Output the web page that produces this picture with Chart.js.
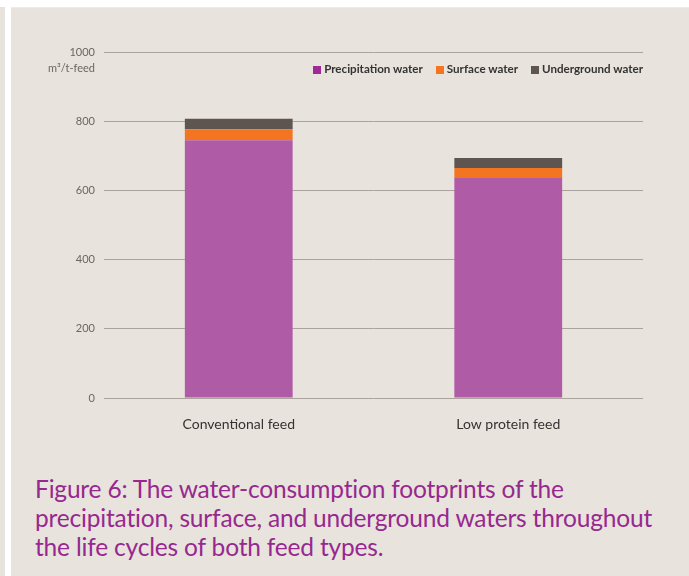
<!DOCTYPE html>
<html>
<head>
<meta charset="utf-8">
<script src="https://cdn.jsdelivr.net/npm/chart.js@4.4.1/dist/chart.umd.min.js"></script>
<style>
    body { margin: 0; width: 689px; height: 576px; background: #ffffff; position: relative; overflow: hidden; }
    .strip { position: absolute; left: 0; top: 7px; width: 5px; height: 569px; background: #e8e3dc; }
    .panel { position: absolute; left: 11px; top: 7px; width: 678px; height: 569px; background: #e8e3dc; border-top: 1px solid #efebe6; }
    #chartBox { position: absolute; left: 0; top: 0; width: 689px; height: 448px; }
    .unit { position: absolute; right: 594px; top: 61px; font: 11px Lato, sans-serif; color: #6b6661; white-space: nowrap; }
    #legend { position: absolute; right: 46px; top: 62px; display: flex; gap: 13px; font: bold 11.6px Lato, sans-serif; color: #333333; white-space: nowrap; }
    #legend span.box { display: inline-block; width: 8px; height: 8px; margin-right: 3px; vertical-align: -1px; }
    .caption { position: absolute; left: 35px; top: 474px; width: 635px; font: 24.5px/29px Lato, sans-serif; color: #97288f; letter-spacing: -0.18px; }
</style>
</head>
<body>
<div class="strip"></div>
<div class="panel"></div>
<div id="chartBox"><canvas id="waterChart"></canvas></div>
<div class="unit">m³/t-feed</div>
<div id="legend"></div>
<div class="caption">Figure 6: The water-consumption footprints of the precipitation, surface, and underground waters throughout the life cycles of both feed types.</div>
<script>
const categories = ['Conventional feed', 'Low protein feed'];
const precipitation = [745, 638];
const surface = [32, 27];
const underground = [30, 29];
const yTicks = [0, 200, 400, 600, 800, 1000];

const legendColors = ['#9e2a96', '#f47521', '#5f5550'];

document.addEventListener('DOMContentLoaded', function () {
    const ctx = document.getElementById('waterChart').getContext('2d');
    const waterChart = new Chart(ctx, {
        type: 'bar',
        data: {
            labels: categories,
            datasets: [
                { label: 'Precipitation water', data: precipitation, backgroundColor: '#b05ba6' },
                { label: 'Surface water', data: surface, backgroundColor: '#f47521' },
                { label: 'Underground water', data: underground, backgroundColor: '#5f5550' }
            ]
        },
        options: {
            responsive: true,
            maintainAspectRatio: false,
            animation: false,
            layout: { padding: { top: 52, right: 46, left: 0, bottom: 0 } },
            datasets: { bar: { categoryPercentage: 1, barPercentage: 0.4 } },
            plugins: {
                tooltip: { enabled: false },
                legend: { display: false }
            },
            scales: {
                x: {
                    stacked: true,
                    grid: { display: false },
                    border: { display: false },
                    ticks: { color: '#333333', padding: 10, font: { family: 'Lato', size: 14 } },
                    afterFit: function (scale) { scale.height = 50; }
                },
                y: {
                    stacked: true,
                    min: 0,
                    max: 1000,
                    afterBuildTicks: function (scale) { scale.ticks = yTicks.map(v => ({ value: v })); },
                    grid: { color: '#aaa49d', lineWidth: 1, drawTicks: false },
                    border: { display: false },
                    ticks: {
                        color: '#6b6661',
                        padding: 9,
                        font: { family: 'Lato', size: 11 },
                        callback: value => String(value)
                    },
                    afterFit: function (scale) { scale.width = 104; }
                }
            }
        }
    });

    // legend sits inside the plot, below the top gridline
    const legend = document.getElementById('legend');
    waterChart.data.datasets.forEach((ds, i) => {
        const item = document.createElement('div');
        const box = document.createElement('span');
        box.className = 'box';
        box.style.background = legendColors[i];
        item.appendChild(box);
        item.appendChild(document.createTextNode(ds.label));
        legend.appendChild(item);
    });
});
</script>
</body>
</html>
